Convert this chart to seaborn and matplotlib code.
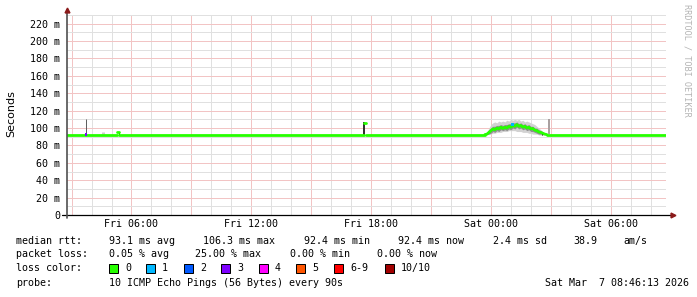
import matplotlib
matplotlib.use("Agg")
import numpy as np
import pandas as pd
import seaborn as sns
import matplotlib.pyplot as plt
from matplotlib.patches import Rectangle

# ---------------- data (time in hours since Fri 00:00, rtt in ms) ----------------
t_start, t_end = 2.77, 32.77
baseline_rtt = 92.5

# bump around Sat 00:00
bump_t = [23.7, 23.8, 23.9, 24.0, 24.1, 24.2, 24.3, 24.4, 24.5, 24.6, 24.7, 24.8, 24.9, 25.0,
          25.1, 25.2, 25.3, 25.4, 25.5, 25.6, 25.7, 25.8, 25.9, 26.0, 26.1, 26.2, 26.3, 26.4,
          26.5, 26.6, 26.7, 26.8]
bump_median = [92.5, 93, 95, 97, 99, 98, 100, 99, 101, 99.5, 101, 100, 102, 101,
               103, 102, 104, 102, 103, 101, 102, 100, 101, 99, 99.5, 97.5, 97, 95.5,
               95, 94, 93, 92.5]
smoke_hi = [93, 95, 100, 104, 106, 107, 106, 108, 107, 108, 107, 109, 108, 110,
            109, 110, 109, 110, 108, 109, 107, 108, 107, 106, 105, 104, 102, 100,
            98, 96, 94, 93]
smoke_lo = [92, 92, 93, 93, 94, 94, 95, 95, 95, 96, 96, 96, 97, 97,
            97, 97, 96, 96, 96, 95, 95, 95, 94, 94, 93, 93, 93, 92,
            92, 92, 92, 92]
inner_hi = [93, 94, 98, 100, 102, 102, 103, 103, 104, 103, 104, 104, 105, 105,
            106, 106, 107, 105, 106, 104, 105, 103, 104, 102, 102, 100, 100, 98,
            97, 95, 94, 93]
inner_lo = [92.5, 92.5, 93, 94, 96, 95, 97, 96, 98, 97, 98, 97, 99, 98,
            100, 99, 101, 99, 100, 98, 99, 97, 98, 96, 96, 95, 94, 93,
            93, 92.5, 92.5, 92.5]

# isolated smoke spikes
spike_t = [3.72, 4.57, 5.36, 17.64, 26.57, 26.93]
spike_lo = [93, 93, 92.5, 92.5, 92, 93]
spike_hi = [110, 96, 96, 107, 96, 110]
spike_color = ["#606060", "#cccccc", "#202020", "#303030", "#101010", "#aaa0a0"]
spike_px = [1, 3, 1, 2, 1, 2]

# median line segments (segment id, time, value)
seg_id = [0, 0, 1, 1, 2, 2, 3, 3, 4, 4] + [5] * len(bump_t) + [6, 6]
seg_t = [t_start, 5.28, 5.28, 5.36, 5.36, 17.66, 17.66, 17.74, 17.74, 23.70] + bump_t + [26.8, t_end]
seg_v = [baseline_rtt, baseline_rtt, 95.8, 95.8, baseline_rtt, baseline_rtt, 106.3, 106.3,
         baseline_rtt, baseline_rtt] + bump_median + [baseline_rtt, baseline_rtt]

# points with packet loss
loss_t = [3.72, 25.10]
loss_v = [93.0, 104.0]
loss_level = [3, 1]

loss_labels = ["0", "1", "2", "3", "4", "5", "6-9", "10/10"]
loss_colors = ["#26ff00", "#00b8ff", "#0059ff", "#7e00ff", "#ff00ff", "#ff5500", "#ff0000", "#a10000"]

x_ticks = [3, 6, 9, 12, 15, 18, 21, 24, 27, 30]
x_labels = {6: "Fri 06:00", 12: "Fri 12:00", 18: "Fri 18:00", 24: "Sat 00:00", 30: "Sat 06:00"}
y_ticks = list(range(0, 221, 20))

# ---------------- figure ----------------
sns.set_theme(style="white")
plt.rcParams["font.family"] = ["DejaVu Sans Mono"]

W, H = 697, 297
fig = plt.figure(figsize=(W / 100, H / 100), dpi=100)
fig.patch.set_facecolor("white")
ax = fig.add_axes([67 / W, (H - 215) / H, 599 / W, 200 / H])
ax.set_facecolor("white")

def fx(px):
    return px / W

def fy(py):
    return 1 - py / H

ax.set_xlim(t_start, t_end)
ax.set_ylim(0, 230)

# grid (fine dotted lines rendered as their average tone)
ax.set_xticks(x_ticks)
ax.set_xticklabels([x_labels.get(t, "") for t in x_ticks])
ax.set_xticks(np.arange(3, 33, 1), minor=True)
ax.set_yticks(y_ticks)
ax.set_yticklabels(["0" if v == 0 else f"{v} m" for v in y_ticks])
ax.set_yticks(np.arange(10, 231, 20), minor=True)
ax.grid(which="minor", color="#e0e0e0", linestyle="-", linewidth=0.72, antialiased=False)
ax.grid(which="major", color="#f2c4c4", linestyle="-", linewidth=0.72, antialiased=False)
ax.set_axisbelow(True)
ax.tick_params(which="both", length=0, labelsize=7.2, colors="#000000")
ax.tick_params(axis="y", pad=5)
ax.tick_params(axis="x", pad=3)
for s in ax.spines.values():
    s.set_visible(False)

# smoke
ax.fill_between(bump_t, smoke_lo, smoke_hi, color="#d2d2d2", linewidth=0, zorder=2)
ax.fill_between(bump_t, inner_lo, inner_hi, color="#8f8f8f", linewidth=0, zorder=2)
for t, lo, hi, c, w in zip(spike_t, spike_lo, spike_hi, spike_color, spike_px):
    ax.vlines(t, lo, hi, color=c, linewidth=w * 0.72, zorder=2)

# median rtt
df = pd.DataFrame({"seg": seg_id, "t": seg_t, "rtt": seg_v})
sns.lineplot(data=df, x="t", y="rtt", units="seg", estimator=None, color=loss_colors[0],
             linewidth=2.0, ax=ax, zorder=3, legend=False)
ax.scatter(loss_t, loss_v, c=[loss_colors[l] for l in loss_level], marker="s", s=4,
           linewidths=0, zorder=4)
ax.set_xlabel("")
ax.set_ylabel("")

# axis lines with arrows
ax.plot([-5 / 599, 606 / 599], [0, 0], transform=ax.transAxes, color="#000000",
        linewidth=0.9, clip_on=False, zorder=5)
ax.plot([0, 0], [-3 / 200, 205 / 200], transform=ax.transAxes, color="#505050",
        linewidth=1.2, clip_on=False, zorder=5)
ax.plot([606 / 599], [0], transform=ax.transAxes, marker=">", color="#8b1a1a",
        markersize=3.5, clip_on=False, zorder=6)
ax.plot([0], [205 / 200], transform=ax.transAxes, marker="^", color="#8b1a1a",
        markersize=3.5, clip_on=False, zorder=6)

# y axis title and watermark
fig.text(fx(11), fy(114), "Seconds", rotation=90, ha="center", va="center",
         fontsize=8, family=["DejaVu Sans"], color="#000000")
fig.text(fx(687), fy(4), "RRDTOOL / TOBI OETIKER", rotation=270, ha="center", va="top",
         fontsize=6.1, color="#b4b4b4")

# legend lines
fs = 7.2
def put(px, py, s, **kw):
    fig.text(fx(px), fy(py), s, ha=kw.pop("ha", "left"), va="center", fontsize=fs,
             color="#000000", **kw)

row1 = 241
put(16, row1, "median rtt:")
put(109, row1, "93.1 ms avg")
put(203, row1, "106.3 ms max")
put(304, row1, "92.4 ms min")
put(398, row1, "92.4 ms now")
put(493, row1, "2.4 ms sd")
put(573, row1, "38.9")
put(623, row1, "am/s")

row2 = 254
put(16, row2, "packet loss:")
put(109, row2, "0.05 % avg")
put(195, row2, "25.00 % max")
put(290, row2, "0.00 % min")
put(377, row2, "0.00 % now")

row3 = 268
put(16, row3, "loss color:")
lbl_x = [125, 162, 200, 237, 275, 312, 350, 401]
for lx, lab, col in zip(lbl_x, loss_labels, loss_colors):
    fig.patches.append(Rectangle((fx(lx - 16), fy(row3 + 4.5)), 9 / W, 9 / H,
                                 transform=fig.transFigure, facecolor=col,
                                 edgecolor="#000000", linewidth=0.72))
    put(lx, row3, lab)

row4 = 283
put(16, row4, "probe:")
put(109, row4, "10 ICMP Echo Pings (56 Bytes) every 90s")
put(689, row4, "Sat Mar  7 08:46:13 2026", ha="right")

fig.savefig("out.png", dpi=100)
